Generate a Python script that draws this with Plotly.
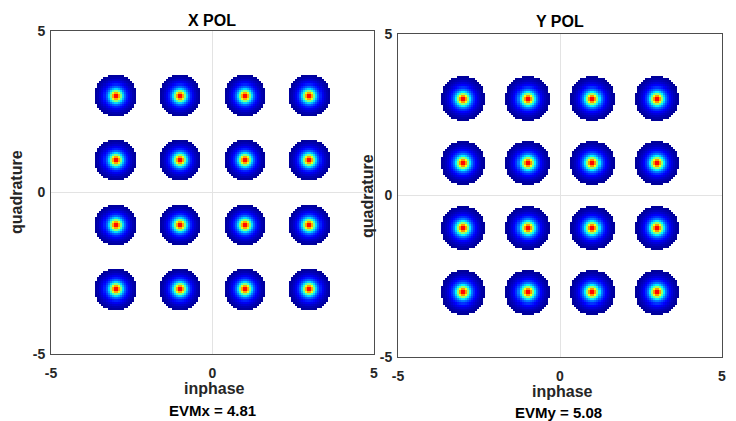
import numpy as np
import plotly.graph_objects as go

# ---- data ----
levels_inphase = [-3, -1, 1, 3]          # constellation I levels (16-QAM)
levels_quadrature = [-3, -1, 1, 3]       # constellation Q levels
titles = ["X POL", "Y POL"]
evm_labels = ["EVMx = 4.81", "EVMy = 5.08"]
tick_values = [-5, 0, 5]
tick_labels = ["-5", "0", "5"]
core_sigma = [0.115, 0.12]               # spread of the dense core, per polarisation
halo_sigma = [0.27, 0.285]               # spread of the outer cloud, per polarisation
core_weight = 0.62
density_floor = 0.02                     # below this no samples fall in a bin
bin_size = 0.0625

jet = [[0.0, "rgb(0,0,131)"], [0.125, "rgb(0,0,255)"], [0.375, "rgb(0,255,255)"],
       [0.625, "rgb(255,255,0)"], [0.875, "rgb(255,0,0)"], [1.0, "rgb(128,0,0)"]]

edges = np.arange(-5, 5 + 1e-9, bin_size)
centers = (edges[:-1] + edges[1:]) / 2
GX, GY = np.meshgrid(centers, centers)


def density(pol):
    z = np.zeros_like(GX)
    for i in levels_inphase:
        for q in levels_quadrature:
            r2 = (GX - i) ** 2 + (GY - q) ** 2
            z += core_weight * np.exp(-r2 / (2 * core_sigma[pol] ** 2)) + \
                (1 - core_weight) * np.exp(-r2 / (2 * halo_sigma[pol] ** 2))
    z = np.where(z < density_floor, np.nan, z)
    return z


fig = go.Figure()
axis_names = [("x", "y"), ("x2", "y2")]
for pol in range(2):
    fig.add_trace(go.Heatmap(
        x=centers, y=centers, z=density(pol), colorscale=jet, zmin=0, zmax=1.1,
        showscale=False, zsmooth=False, xaxis=axis_names[pol][0], yaxis=axis_names[pol][1],
        hoverinfo="skip"))

W, H = 736, 421
# plot boxes in pixels: (left, right, top, bottom)
boxes = [(51, 374, 31, 354), (398, 722, 34, 357)]

axis_style = dict(range=[-5, 5], showgrid=False, zeroline=True, zerolinecolor="#e3e3e3",
                  zerolinewidth=1, showline=True, mirror=True, linecolor="#4d4d4d", linewidth=1,
                  tickvals=tick_values, ticktext=tick_labels, ticks="", automargin=False,
                  tickfont=dict(family="Liberation Sans", size=14, color="#262626", weight="bold"),
                  fixedrange=True)

layout = dict(width=W, height=H, margin=dict(l=0, r=0, t=0, b=0, autoexpand=False),
              paper_bgcolor="white", plot_bgcolor="white", showlegend=False)
for pol, (l, r, t, b) in enumerate(boxes):
    sx = "" if pol == 0 else "2"
    layout["xaxis" + sx] = dict(axis_style, domain=[l / W, r / W],
                                anchor="y" + sx, ticklabelstandoff=6)
    layout["yaxis" + sx] = dict(axis_style, domain=[1 - b / H, 1 - t / H],
                                anchor="x" + sx, ticklabelstandoff=2)
fig.update_layout(**layout)

font_bold = dict(family="Liberation Sans", color="#262626", weight="bold")
annotations = []
title_pos = [(212, 20), (560, 22)]
inphase_pos = [(214, 388), (562, 391)]
evm_pos = [(212, 410), (558, 412)]
quad_pos = [(17, 192), (367, 196)]
for pol in range(2):
    annotations.append(dict(text=titles[pol], x=title_pos[pol][0] / W, y=1 - title_pos[pol][1] / H,
                            xref="paper", yref="paper", showarrow=False, xanchor="center",
                            yanchor="middle", font=dict(font_bold, size=16, color="black")))
    annotations.append(dict(text="inphase", x=inphase_pos[pol][0] / W, y=1 - inphase_pos[pol][1] / H,
                            xref="paper", yref="paper", showarrow=False, xanchor="center",
                            yanchor="middle", font=dict(font_bold, size=16)))
    annotations.append(dict(text=evm_labels[pol], x=evm_pos[pol][0] / W, y=1 - evm_pos[pol][1] / H,
                            xref="paper", yref="paper", showarrow=False, xanchor="center",
                            yanchor="middle", font=dict(font_bold, size=15, color="black")))
    annotations.append(dict(text="quadrature", x=quad_pos[pol][0] / W, y=1 - quad_pos[pol][1] / H,
                            xref="paper", yref="paper", showarrow=False, xanchor="center",
                            yanchor="middle", textangle=-90, font=dict(font_bold, size=16)))
fig.update_layout(annotations=annotations)

fig.write_html("out.html", config={"displayModeBar": False},
               post_script="document.body.style.margin='0';document.body.style.padding='0';")
